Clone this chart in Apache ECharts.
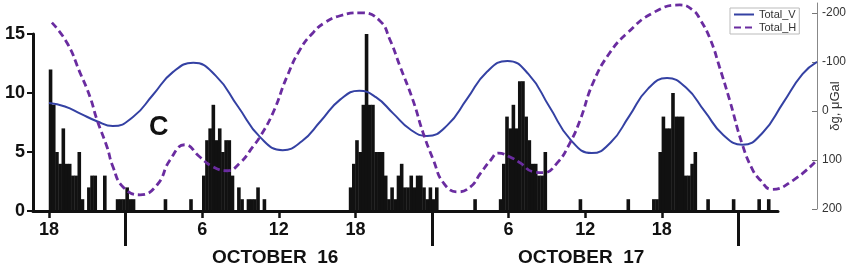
<!DOCTYPE html>
<html><head><meta charset="utf-8">
<script src="https://cdn.jsdelivr.net/npm/echarts@6/dist/echarts.min.js"></script>
<style>html,body{margin:0;padding:0;background:#fff}#c{width:850px;height:272px}</style>
</head><body><div id="c"></div>
<script>
// hours counted from October 15, 00:00
const BIN = 0.25;
const binStart = [
18.0,18.25,18.5,18.75,19.0,19.25,19.5,19.75,20.0,20.25,20.5,21.0,21.25,21.5,22.25,23.25,23.5,23.75,24.0,24.25,24.5,
27.0,29.0,
30.0,30.25,30.5,30.75,31.0,31.25,31.5,31.75,32.0,32.25,32.75,33.0,33.5,33.75,34.0,34.25,34.75,
41.5,41.75,42.0,42.25,42.5,42.75,43.0,43.25,43.5,43.75,44.0,44.25,44.5,44.75,45.0,45.25,45.5,45.75,46.0,46.25,46.5,46.75,47.0,47.25,47.5,47.75,48.0,48.25,
51.25,
53.25,53.5,53.75,54.0,54.25,54.5,54.75,55.0,55.25,55.5,55.75,56.0,56.25,56.5,56.75,
59.5,63.25,
65.25,65.5,65.75,66.0,66.25,66.5,66.75,67.0,67.25,67.5,67.75,68.0,68.25,68.5,
69.5,71.5,73.5,74.25];
const binCount = [
12,9,5,4,7,4,4,3,3,5,1,2,3,3,3,1,1,1,2,1,1,
1,1,
3,6,7,9,6,7,5,6,6,3,2,1,1,1,1,2,1,
2,4,6,5,9,15,9,9,5,5,5,3,1,2,1,3,4,2,2,3,2,3,3,2,1,2,1,2,
1,
1,4,8,7,9,7,11,11,8,6,4,4,3,3,5,
1,1,
1,1,5,8,7,7,10,8,8,8,3,3,4,5,
1,1,1,1];

const hourTicks = [18, 30, 36, 42, 54, 60, 66];
const midnightTicks = [24, 48, 72];
const gravTicks = [-200, -100, 0, 100, 200];

const vHours  = [18, 19.25, 20.5, 21.75, 23, 24.6, 26.15, 27.7, 29.3, 31.05, 32.8, 34.55, 36.3, 37.8, 39.3, 40.8, 42.3, 43.6, 44.95, 46.3, 47.6, 49.2, 50.75, 52.3, 53.9, 55.55, 57.2, 58.85, 60.5, 62, 63.45, 64.9, 66.4, 67.9, 69.35, 70.8, 72.3, 73.9, 75.5, 77.0, 78.14];
const vValues = [-16, -9, 6, 21, 31, 12, -33, -79, -98, -72, -9, 54, 80, 62, 20, -23, -41, -28, 5, 38, 51, 29, -25, -80, -102, -75, -8, 59, 86, 64, 10, -45, -67, -47, 1, 49, 69, 44, -17, -75, -100];

const hHours  = [18.23, 19.41, 20.43, 21.21, 21.76, 22.54, 23.01, 23.8, 25.13, 26.46, 27.48, 28.65, 29.82, 30.84, 31.94, 32.96, 33.97, 34.52, 35.54, 36.64, 37.66, 38.7, 39.6, 40.8, 42.4, 43.9, 44.7, 45.5, 46.5, 47.3, 48.1, 48.9, 50, 51, 51.8, 52.6, 53.2, 54.1, 54.9, 55.9, 56.7, 57.8, 58.8, 59.6, 60.6, 61.9, 63.3, 65.3, 67.4, 68.4, 69.0, 69.8, 70.5, 71.3, 72.3, 73.1, 73.7, 74.6, 76.3, 78.14];
const hValues = [-180, -139, -78, -29, 18, 73, 114, 155, 171, 151, 100, 69, 94, 114, 122, 106, 73, 53, 4, -70, -125, -160, -180, -194, -200, -184, -145, -90, -22, 45, 100, 147, 165, 155, 127, 100, 86, 94, 106, 124, 126, 106, 65, 18, -57, -118, -159, -200, -216, -206, -186, -145, -90, -22, 69, 120, 141, 160, 141, 100];

const FONT = 'Liberation Sans, Arial, sans-serif';
const chart = echarts.init(document.getElementById('c'), null, {renderer: 'canvas'});
chart.setOption({
  animation: false,
  backgroundColor: '#fff',
  grid: [
    {left: 33, right: 72, top: 34, bottom: 61, outerBoundsMode: 'none', containLabel: false},
    {left: 33, right: 33, top: 3, bottom: 63, outerBoundsMode: 'none', containLabel: false}
  ],
  legend: {
    data: ['Total_V', 'Total_H'],
    orient: 'vertical', left: 730, top: 8,
    itemWidth: 20, itemHeight: 8, itemGap: 2,
    padding: [1, 3, 1, 3],
    borderColor: '#bbb', borderWidth: 1,
    itemStyle: {color: 'transparent', borderColor: 'transparent', borderWidth: 0},
    textStyle: {fontSize: 11, color: '#333', fontFamily: FONT}
  },
  xAxis: [
    {gridIndex: 0, type: 'value', min: 16.75, max: 75.1, position: 'bottom',
     axisLine: {show: true, lineStyle: {color: '#111', width: 3}},
     axisTick: {show: true, customValues: hourTicks, length: 7, lineStyle: {color: '#111', width: 2.5}},
     axisLabel: {customValues: hourTicks, formatter: v => String(v % 24), margin: 10,
                 fontSize: 18, fontWeight: 'bold', color: '#111', fontFamily: FONT},
     splitLine: {show: false}},
    {gridIndex: 0, type: 'value', min: 16.75, max: 75.1, position: 'bottom', offset: 0,
     axisLine: {show: false},
     axisTick: {show: true, customValues: midnightTicks, length: 35, lineStyle: {color: '#111', width: 3}},
     axisLabel: {show: false}, splitLine: {show: false}},
    {gridIndex: 1, type: 'value', min: 16.75, max: 78.14, show: false, splitLine: {show: false}}
  ],
  yAxis: [
    {gridIndex: 0, type: 'value', min: 0, max: 15, interval: 5,
     axisLine: {show: true, lineStyle: {color: '#111', width: 3}},
     axisTick: {show: true, length: 6, lineStyle: {color: '#111', width: 2}},
     axisLabel: {margin: 8, fontSize: 18, fontWeight: 'bold', color: '#111', fontFamily: FONT},
     splitLine: {show: false}},
    {gridIndex: 1, type: 'value', position: 'right', inverse: true, min: -220, max: 200,
     axisLine: {show: true, lineStyle: {color: '#888', width: 1}},
     axisTick: {show: true, inside: true, length: 5, customValues: gravTicks, lineStyle: {color: '#777'}},
     axisLabel: {customValues: gravTicks, margin: 5, fontSize: 12, color: '#333', fontFamily: FONT},
     splitLine: {show: false},
     name: 'δg, μGal', nameLocation: 'middle', nameRotate: 90, nameGap: 12, nameMoveOverlap: false,
     nameTextStyle: {fontSize: 13, color: '#333', fontFamily: FONT}}
  ],
  series: [
    {type: 'bar', xAxisIndex: 0, yAxisIndex: 0, barWidth: 3.6, silent: true,
     itemStyle: {color: '#111'},
     data: binStart.map((h, i) => [h + BIN / 2, binCount[i]])},
    {type: 'line', name: 'Total_V', xAxisIndex: 2, yAxisIndex: 1, smooth: 0.5, symbol: 'none', showSymbol: false,
     lineStyle: {color: '#3441a3', width: 2}, itemStyle: {color: '#3441a3'},
     data: vHours.map((h, i) => [h, vValues[i]])},
    {type: 'line', name: 'Total_H', xAxisIndex: 2, yAxisIndex: 1, smooth: 0.5, symbol: 'none', showSymbol: false,
     lineStyle: {color: '#6a2ca0', width: 2.8, type: [7, 4]}, itemStyle: {color: '#6a2ca0'},
     data: hHours.map((h, i) => [h, hValues[i]])}
  ],
  graphic: [
    {type: 'text', left: 212, top: 248, style: {text: 'OCTOBER  16', font: 'bold 19px ' + FONT, fill: '#111'}},
    {type: 'text', left: 518, top: 248, style: {text: 'OCTOBER  17', font: 'bold 19px ' + FONT, fill: '#111'}},
    {type: 'text', left: 149, top: 114, style: {text: 'C', font: 'bold 27px ' + FONT, fill: '#111'}}
  ]
});
</script></body></html>
